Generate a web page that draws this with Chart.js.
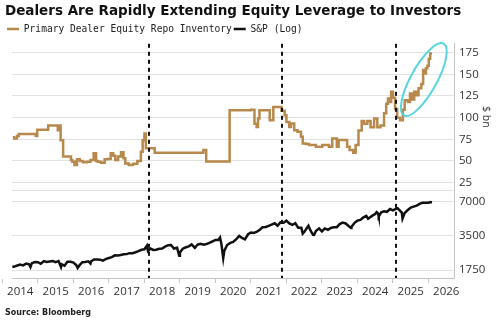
<!DOCTYPE html>
<html>
<head>
<meta charset="utf-8">
<script src="https://cdn.jsdelivr.net/npm/chart.js@4.4.1/dist/chart.umd.min.js"></script>
<style>
  html, body { margin: 0; padding: 0; background: #fff; }
  #wrap { width: 500px; height: 323px; }
</style>
</head>
<body>
<div id="wrap"><canvas id="leverageChart"></canvas></div>
<script>
// Primary dealer equity repo inventory ($ bn), held until the next reading
const repoYears = [
  2014.33, 2014.41, 2014.46, 2014.94, 2014.98, 2015.29, 2015.56, 2015.61, 2015.64, 2015.71,
  2015.93, 2015.97, 2016.03, 2016.10, 2016.18, 2016.27, 2016.38, 2016.48, 2016.57, 2016.64,
  2016.69, 2016.78, 2016.88, 2016.96, 2017.05, 2017.12, 2017.18, 2017.26, 2017.34, 2017.41,
  2017.46, 2017.56, 2017.68, 2017.80, 2017.90, 2017.95, 2018.00, 2018.04, 2018.29, 2019.66,
  2019.74, 2020.40, 2021.00, 2021.10, 2021.16, 2021.20, 2021.24, 2021.53, 2021.63, 2021.86,
  2021.95, 2022.00, 2022.08, 2022.13, 2022.22, 2022.31, 2022.41, 2022.46, 2022.55, 2022.64,
  2022.83, 2023.01, 2023.20, 2023.29, 2023.42, 2023.47, 2023.71, 2023.78, 2023.88, 2023.95,
  2024.03, 2024.12, 2024.19, 2024.28, 2024.37, 2024.47, 2024.56, 2024.65, 2024.75, 2024.81,
  2024.86, 2024.90, 2024.95, 2025.00, 2025.06, 2025.12, 2025.20, 2025.28, 2025.33, 2025.42,
  2025.48, 2025.55, 2025.60, 2025.66, 2025.72, 2025.80, 2025.85, 2025.89, 2025.93, 2025.97,
  2026.01, 2026.05, 2026.10
];
const repoValues = [
  78.7, 76, 78.7, 81, 78.7, 86, 91, 85.5, 91, 74,
  55, 51, 49, 45.4, 52, 50, 48.5, 49, 51, 58.8,
  50, 49, 48, 52, 52.3, 59, 56, 51, 55, 60,
  53, 47, 45.4, 46.6, 50, 60.7, 74, 81.7, 64.6, 59.5,
  62.6, 49.2, 108.5, 109.2, 93, 89.3, 99, 108.5, 97, 112.3,
  108, 102.8, 95, 89.3, 93.2, 85.5, 83.6, 77.9, 70.2, 69.5,
  68.3, 66.4, 68.3, 66.4, 76, 66.4, 74.1, 66.4, 62.6, 59.5,
  68.3, 85, 96, 93, 96, 89, 99, 89, 91, 105,
  116, 122, 118, 130, 123, 110, 100, 97, 109, 120,
  118, 128, 121, 130, 126, 134, 139, 155, 151, 157,
  160, 168, 174
];

// S&P 500 index level
const spxYears = [
  2014.28, 2014.33, 2014.42, 2014.50, 2014.58, 2014.67, 2014.75, 2014.79, 2014.83, 2014.92,
  2015.00, 2015.08, 2015.17, 2015.25, 2015.33, 2015.42, 2015.50, 2015.58, 2015.65, 2015.67,
  2015.75, 2015.83, 2015.92, 2016.00, 2016.08, 2016.12, 2016.17, 2016.25, 2016.33, 2016.42,
  2016.48, 2016.50, 2016.58, 2016.67, 2016.75, 2016.83, 2016.92, 2017.00, 2017.08, 2017.17,
  2017.25, 2017.33, 2017.42, 2017.50, 2017.58, 2017.67, 2017.75, 2017.83, 2017.92, 2018.00,
  2018.07, 2018.10, 2018.17, 2018.25, 2018.33, 2018.42, 2018.50, 2018.58, 2018.67, 2018.75,
  2018.83, 2018.92, 2018.98, 2019.00, 2019.08, 2019.17, 2019.25, 2019.33, 2019.42, 2019.50,
  2019.58, 2019.67, 2019.75, 2019.83, 2019.92, 2020.00, 2020.08, 2020.13, 2020.17, 2020.22,
  2020.25, 2020.33, 2020.42, 2020.50, 2020.58, 2020.67, 2020.75, 2020.83, 2020.92, 2021.00,
  2021.08, 2021.17, 2021.25, 2021.33, 2021.42, 2021.50, 2021.58, 2021.67, 2021.75, 2021.83,
  2021.92, 2022.00, 2022.08, 2022.17, 2022.25, 2022.33, 2022.42, 2022.46, 2022.50, 2022.58,
  2022.62, 2022.67, 2022.75, 2022.78, 2022.83, 2022.92, 2023.00, 2023.08, 2023.17, 2023.25,
  2023.33, 2023.42, 2023.50, 2023.58, 2023.67, 2023.75, 2023.82, 2023.83, 2023.92, 2024.00,
  2024.08, 2024.17, 2024.25, 2024.30, 2024.33, 2024.42, 2024.50, 2024.54, 2024.58, 2024.60,
  2024.67, 2024.75, 2024.83, 2024.92, 2025.00, 2025.08, 2025.13, 2025.17, 2025.25, 2025.27,
  2025.33, 2025.42, 2025.50, 2025.58, 2025.67, 2025.75, 2025.83, 2025.92, 2026.00, 2026.06,
  2026.10
];
const spxValues = [
  1870, 1884, 1924, 1960, 1931, 2003, 1972, 1862, 2018, 2068,
  2059, 1995, 2105, 2068, 2086, 2107, 2063, 2104, 1867, 1972,
  1920, 2079, 2080, 2044, 1940, 1829, 1932, 2060, 2065, 2097,
  2000, 2099, 2174, 2171, 2168, 2126, 2199, 2239, 2279, 2364,
  2363, 2384, 2412, 2423, 2470, 2472, 2519, 2575, 2648, 2674,
  2873, 2581, 2714, 2641, 2648, 2705, 2718, 2816, 2902, 2914,
  2712, 2760, 2351, 2507, 2704, 2784, 2834, 2946, 2752, 2942,
  2980, 2926, 2977, 3038, 3141, 3231, 3226, 3386, 2954, 2237,
  2585, 2912, 3044, 3100, 3271, 3500, 3363, 3270, 3622, 3756,
  3714, 3811, 3973, 4181, 4204, 4298, 4395, 4523, 4308, 4605,
  4567, 4766, 4516, 4374, 4530, 4132, 4132, 3667, 3785, 4130,
  4305, 3955, 3586, 3577, 3872, 4080, 3840, 4077, 3970, 4109,
  4169, 4180, 4450, 4589, 4508, 4288, 4117, 4194, 4568, 4770,
  4846, 5096, 5254, 4967, 5036, 5278, 5460, 5667, 5522, 5186,
  5648, 5762, 5705, 6032, 5882, 6041, 6144, 5955, 5612, 4982,
  5569, 5912, 6205, 6339, 6460, 6688, 6840, 6849, 6845, 6940,
  6900
];

const yearTicks = [2014, 2015, 2016, 2017, 2018, 2019, 2020, 2021, 2022, 2023, 2024, 2025, 2026];
const repoTicks = [25, 50, 75, 100, 125, 150, 175];
const spxTicks = [1750, 3500, 7000];
const eventYears = [2018.12, 2021.87, 2025.09];
const highlight = { year: 2025.87, value: 144 };

const toPoints = (xs, ys) => xs.map((x, i) => ({ x, y: ys[i] }));

const tickFont = { family: 'Open Sans', size: 11.5 };
const gridColor = '#e2e2e2';
const axisColor = '#c4c4c4';

// dashed event markers, panel divider and the highlight ring
const overlays = {
  id: 'overlays',
  beforeDatasetsDraw(chart) {
    const { ctx, chartArea, scales } = chart;
    const y = Math.round(scales.yRepo.bottom) + 0.5;
    ctx.save();
    ctx.strokeStyle = gridColor;
    ctx.lineWidth = 1;
    ctx.beginPath();
    ctx.moveTo(chartArea.left, y);
    ctx.lineTo(chartArea.right, y);
    ctx.stroke();
    ctx.restore();
  },
  afterDatasetsDraw(chart) {
    const { ctx, chartArea, scales } = chart;
    ctx.save();
    ctx.strokeStyle = '#111';
    ctx.lineWidth = 2;
    ctx.setLineDash([4, 4]);
    eventYears.forEach(yr => {
      const x = Math.round(scales.x.getPixelForValue(yr));
      ctx.beginPath();
      ctx.moveTo(x, chartArea.top);
      ctx.lineTo(x, chartArea.bottom);
      ctx.stroke();
    });
    ctx.setLineDash([]);
    const cx = scales.x.getPixelForValue(highlight.year);
    const cy = scales.yRepo.getPixelForValue(highlight.value);
    ctx.strokeStyle = '#55d6df';
    ctx.lineWidth = 2;
    ctx.beginPath();
    ctx.ellipse(cx, cy, 41, 13, -61 * Math.PI / 180, 0, Math.PI * 2);
    ctx.stroke();
    ctx.restore();
  }
};

const ctx = document.getElementById('leverageChart').getContext('2d');

new Chart(ctx, {
  type: 'line',
  data: {
    datasets: [{
      label: 'Primary Dealer Equity Repo Inventory',
      data: toPoints(repoYears, repoValues),
      yAxisID: 'yRepo',
      borderColor: '#b8894c',
      backgroundColor: '#b8894c',
      borderWidth: 2.5,
      pointRadius: 0,
      stepped: 'after'
    }, {
      label: 'S&P (Log)',
      data: toPoints(spxYears, spxValues),
      yAxisID: 'ySpx',
      borderColor: '#111',
      backgroundColor: '#111',
      borderWidth: 2.5,
      pointRadius: 0
    }]
  },
  options: {
    responsive: true,
    maintainAspectRatio: false,
    animation: false,
    devicePixelRatio: 1,
    layout: { padding: { left: 5, right: 0, top: 0, bottom: 0 } },
    plugins: {
      title: {
        display: true,
        text: 'Dealers Are Rapidly Extending Equity Leverage to Investors',
        align: 'start',
        color: '#111',
        font: { family: 'DejaVu Sans', size: 13.5, weight: 'bold' },
        padding: { top: 3, bottom: 3 }
      },
      legend: {
        position: 'top',
        align: 'start',
        labels: {
          usePointStyle: true,
          pointStyle: 'line',
          pointStyleWidth: 12,
          padding: 2,
          color: '#222',
          font: { family: 'DejaVu Sans Mono', size: 9.6 }
        }
      },
      subtitle: {
        display: true,
        text: 'Source: Bloomberg',
        position: 'bottom',
        align: 'start',
        color: '#222',
        font: { family: 'DejaVu Sans', size: 8, weight: 'bold' },
        padding: { top: 7.5, bottom: 5 }
      },
      tooltip: { enabled: false }
    },
    scales: {
      x: {
        type: 'linear',
        min: 2014.27,
        max: 2026.72,
        afterBuildTicks: s => { s.ticks = yearTicks.map(v => ({ value: v })); },
        afterFit: s => { s.paddingLeft = 12; s.paddingRight = 0; },
        ticks: {
          callback: v => String(v),
          labelOffset: 17.8,
          padding: 2,
          maxRotation: 0,
          autoSkip: false,
          color: '#333',
          font: tickFont
        },
        grid: { drawOnChartArea: false, tickLength: 5, tickColor: axisColor },
        border: { color: axisColor }
      },
      yRepo: {
        type: 'linear',
        position: 'right',
        stack: 'panels',
        stackWeight: 147,
        min: 16.7,
        max: 185.3,
        afterBuildTicks: s => { s.ticks = repoTicks.map(v => ({ value: v })); },
        afterFit: s => { s.width = 46; s.paddingTop = 43; },
        ticks: { callback: v => String(v), autoSkip: false, padding: 5, color: '#333', font: tickFont },
        grid: { color: gridColor, drawTicks: false },
        border: { color: axisColor },
        title: {
          display: true,
          text: '$ bn',
          color: '#333',
          font: { family: 'Open Sans', size: 10.5 },
          padding: { top: 8, bottom: 0 }
        }
      },
      ySpx: {
        type: 'logarithmic',
        position: 'right',
        stack: 'panels',
        stackWeight: 89,
        min: 1492,
        max: 8917,
        afterBuildTicks: s => { s.ticks = spxTicks.map(v => ({ value: v })); },
        afterFit: s => { s.width = 46; },
        ticks: { callback: v => String(v), autoSkip: false, padding: 5, color: '#333', font: tickFont },
        grid: { color: gridColor, drawTicks: false },
        border: { color: axisColor }
      }
    }
  },
  plugins: [overlays]
});
</script>
</body>
</html>
